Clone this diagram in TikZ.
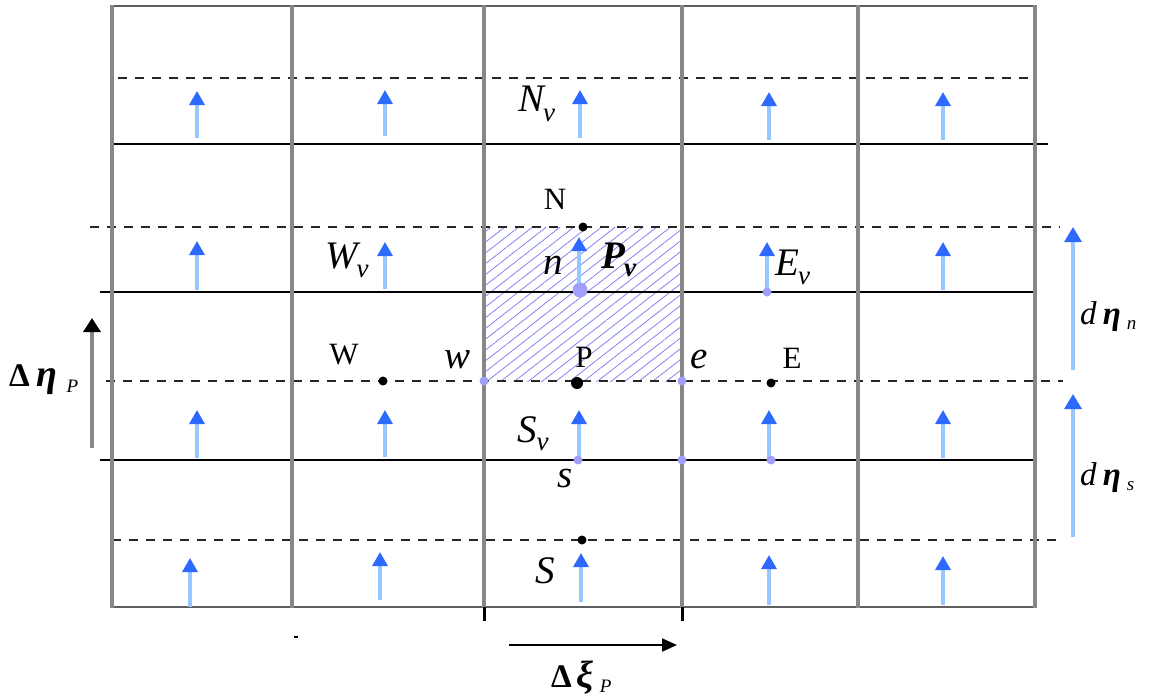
\documentclass[tikz,border=0pt]{standalone}
\usepackage{fontspec}
\usepackage{graphicx}
\setmainfont{Liberation Serif}
\usetikzlibrary{arrows.meta,patterns.meta}
\definecolor{gridgray}{RGB}{135,135,135}
\definecolor{edgegray}{RGB}{95,95,95}
\definecolor{shaft}{RGB}{150,200,255}
\definecolor{headblue}{RGB}{45,105,255}
\definecolor{dotpurple}{RGB}{160,160,248}
\definecolor{hatchblue}{RGB}{130,130,245}
\newcommand\lsub[2]{\raisebox{-#1}{\fontsize{#2}{#2}\selectfont\itshape ν}}
\begin{document}
\begin{tikzpicture}[x=1pt,y=-1pt,
  vline/.style={draw=gridgray,line width=3.2pt},
  edgeline/.style={draw=edgegray,line width=2.6pt},
  hline/.style={draw=black,line width=1.8pt},
  dline/.style={draw=black!85,line width=2pt,dash pattern=on 9pt off 8pt},
  flux/.style={draw=shaft,line width=3.2pt,-{Triangle[length=14pt,width=15pt,color=headblue]}},
  bigflux/.style={draw=shaft,line width=3.2pt,-{Triangle[length=15pt,width=17pt,color=headblue]}},
  blackdot/.style={circle,fill=black,inner sep=0pt,minimum size=9pt},
  pdot/.style={circle,fill=dotpurple,inner sep=0pt,minimum size=9pt},
  upl/.style={font=\fontsize{31}{31}\selectfont,inner sep=0pt},
  itl/.style={font=\fontsize{39}{39}\selectfont\itshape,inner sep=0pt},
]
\useasboundingbox (0,0) rectangle (1158,697);
% hatched control volume
\fill[pattern={Lines[angle=38,distance=8.5pt,line width=0.8pt]},pattern color=hatchblue] (484,227) rectangle (682,381);
% horizontal lines
\draw[edgeline] (112,6) -- (1035,6);
\draw[edgeline] (112,607) -- (1035,607);
\draw[dline] (118,78) -- (1033,78);
\draw[hline] (112,144) -- (1048,144);
\draw[dline] (90,227) -- (1060,227);
\draw[hline] (100,292) -- (1037,292);
\draw[dline] (106,381) -- (1063,381);
\draw[hline] (100,460) -- (1037,460);
\draw[dline] (112,540) -- (1063,540);
% vertical lines
\foreach \x in {112,292,484,682,858,1035}
  \draw[vline] (\x,5) -- (\x,608);
% ticks
\draw[black,line width=3pt] (484,607) -- (484,621);
\draw[black,line width=3pt] (682,607) -- (682,621);
\draw[black,line width=2pt] (294,637) -- (298,637);
% flux arrows
\foreach \x/\a/\b in {197/138/91,385/136/90,580/138/90,769/140/92,943/140/92,
  197/290/241,385/289/242,579/290/237,767/292/242,943/290/242,
  197/458/410,385/457/410,579/460/410,769/460/410,943/458/410,
  190/607/558,380/600/552,581/602/553,769/605/555,943/605/556}
  \draw[flux] (\x,\a) -- (\x,\b);
% right arrows
\coordinate (dnT) at (1073,370); \coordinate (dnH) at (1073,227);
\coordinate (dsT) at (1073,537); \coordinate (dsH) at (1073,394);
\draw[bigflux] (dnT) -- (dnH);
\draw[bigflux] (dsT) -- (dsH);
% left arrow
\coordinate (lT) at (92,448); \coordinate (lH) at (92,318);
\draw[draw=gridgray,line width=3.4pt,-{Triangle[length=14pt,width=17pt,color=black]}] (lT) -- (lH);
% bottom arrow
\coordinate (bT) at (509,645); \coordinate (bH) at (677,645);
\draw[black,line width=2pt,-{Triangle[length=15pt,width=13pt]}] (bT) -- (bH);
% dots
\node[blackdot] (N) at (583,227) {};
\node[blackdot] (W) at (383,381) {};
\node[blackdot] (E) at (771,383) {};
\node[blackdot] (S) at (582,540) {};
\node[blackdot,minimum size=12pt] (P) at (577,383) {};
\node[pdot] (w) at (484,381) {};
\node[pdot] (e) at (682,381) {};
\node[pdot] (Ev) at (767,292) {};
\node[pdot] (s) at (578,460) {};
\node[pdot] (se) at (682,460) {};
\node[pdot] (sE) at (771,460) {};
\node[pdot,minimum size=15pt] (Pv) at (580,290) {};
% labels
\node[upl] (lN) at (555,199) {N};
\node[upl] (lP) at (584,357) {P};
\node[upl] (lE) at (792,358) {E};
\node[upl] (lW) at (344,355) {W};
\node[itl] (lw) at (457,360) {w};
\node[itl] (le) at (699,359) {e};
\node[itl] (ln) at (553,265) {n};
\node[itl] (ls) at (565,478) {s};
\node[itl,anchor=base west] (lS) at (535,583) {S};
\node[itl,anchor=base west] (lNv) at (518,111) {N\kern-1pt\lsub{10pt}{27}};
\node[itl,anchor=base west] (lWv) at (325,268) {W\kern-1pt\lsub{9pt}{27}};
\node[itl,anchor=base west] (lEv) at (775,275) {E\kern-1pt\lsub{9pt}{27}};
\node[itl,anchor=base west] (lSv) at (517,442) {S\lsub{8pt}{27}};
\node[itl,anchor=base west] (lPv) at (601,268) {\bfseries P\kern-1pt\lsub{8pt}{27}};
\node[inner sep=0pt,anchor=base west,font=\fontsize{33}{33}\selectfont] (ldn) at (1080,324)
  {\textit{d}\kern6pt\textbf{\textit{η}}\kern6pt\raisebox{-5pt}{\fontsize{19}{19}\selectfont\itshape n}};
\node[inner sep=0pt,anchor=base west,font=\fontsize{33}{33}\selectfont] (lds) at (1080,485)
  {\textit{d}\kern6pt\textbf{\textit{η}}\kern6pt\raisebox{-5pt}{\fontsize{19}{19}\selectfont\itshape s}};
\node[inner sep=0pt,anchor=base west,font=\fontsize{33}{33}\selectfont] (ldp) at (9,386)
  {\textbf{Δ}\kern7pt{\fontsize{38}{38}\selectfont\textbf{\textit{η}}}\kern9pt\raisebox{-6pt}{\fontsize{19}{19}\selectfont\itshape P}};
\node[inner sep=0pt,anchor=base west,font=\fontsize{33}{33}\selectfont] (ldx) at (551,687)
  {\textbf{Δ}\kern5pt{\fontsize{38}{38}\selectfont\textbf{\textit{ξ}}}\kern6pt\raisebox{-5pt}{\fontsize{19}{19}\selectfont\itshape P}};
\end{tikzpicture}
\end{document}
